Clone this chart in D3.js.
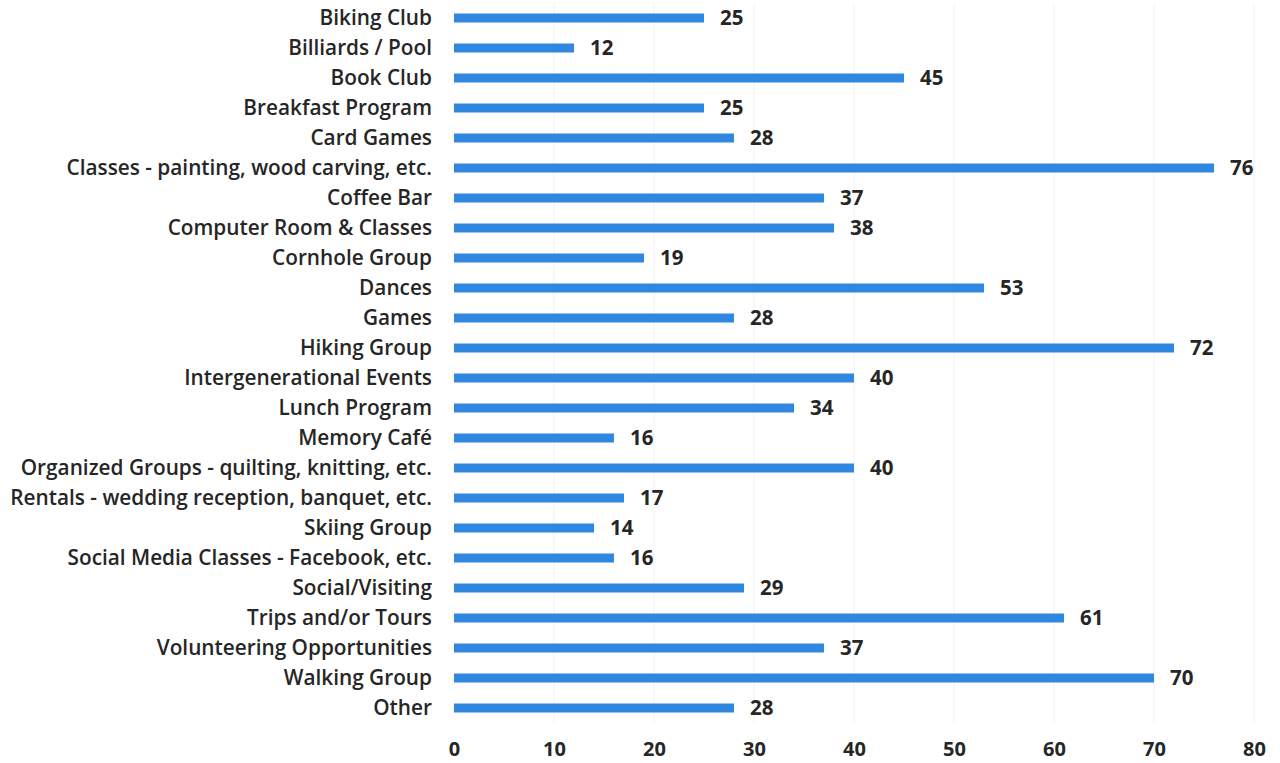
<!DOCTYPE html>
<html><head><meta charset="utf-8">
<script src="https://cdn.jsdelivr.net/npm/d3@7"></script>
<style>body{margin:0;background:#fff}svg{display:block}text{font-family:"Open Sans",sans-serif;font-weight:600;fill:#262626}</style>
</head><body>
<svg id="c" width="1280" height="763"></svg>
<script>
const categories = ["Biking Club","Billiards / Pool","Book Club","Breakfast Program","Card Games","Classes - painting, wood carving, etc.","Coffee Bar","Computer Room & Classes","Cornhole Group","Dances","Games","Hiking Group","Intergenerational Events","Lunch Program","Memory Café","Organized Groups - quilting, knitting, etc.","Rentals - wedding reception, banquet, etc.","Skiing Group","Social Media Classes - Facebook, etc.","Social/Visiting","Trips and/or Tours","Volunteering Opportunities","Walking Group","Other"];
const values = [25,12,45,25,28,76,37,38,19,53,28,72,40,34,16,40,17,14,16,29,61,37,70,28];
const tickValues = [0,10,20,30,40,50,60,70,80];

const svg = d3.select("#c");
const x = d3.scaleLinear().domain([0,80]).range([454,1254]);
const y = d3.scaleBand().domain(categories).range([3,723]).paddingInner(0.7).paddingOuter(0.35);

svg.append("g").selectAll("line").data(tickValues.slice(1)).join("line")
  .attr("x1",d=>x(d)).attr("x2",d=>x(d)).attr("y1",3).attr("y2",723)
  .attr("stroke","#f2f2f2").attr("stroke-width",1);

svg.append("g").selectAll("rect").data(values).join("rect")
  .attr("x",x(0)).attr("y",(d,i)=>y(categories[i]))
  .attr("width",d=>x(d)-x(0)).attr("height",y.bandwidth())
  .attr("fill","#2f87e0");

svg.append("g").selectAll("text").data(values).join("text")
  .attr("x",d=>x(d)+16).attr("y",(d,i)=>y(categories[i])+y.bandwidth()/2)
  .attr("dy","0.36em").attr("font-size",20.5).style("font-weight",700).text(d=>d);

const cl = svg.append("g").selectAll("text").data(categories).join("text")
  .attr("x",432).attr("y",d=>y(d)+y.bandwidth()/2).attr("dy","0.36em")
  .attr("text-anchor","end").attr("font-size",18).text(d=>d);
const longest = cl.filter(d=>d.startsWith("Rentals")).node().getComputedTextLength();
cl.attr("font-size",18*422/longest);

const ax = svg.append("g").attr("transform","translate(0,736)")
  .call(d3.axisBottom(x).tickValues(tickValues).tickSize(0).tickPadding(6));
ax.select(".domain").remove();
ax.selectAll("text").attr("font-size",20).style("font-family","'Open Sans',sans-serif").style("font-weight",700).attr("fill","#262626");
</script>
</body></html>
